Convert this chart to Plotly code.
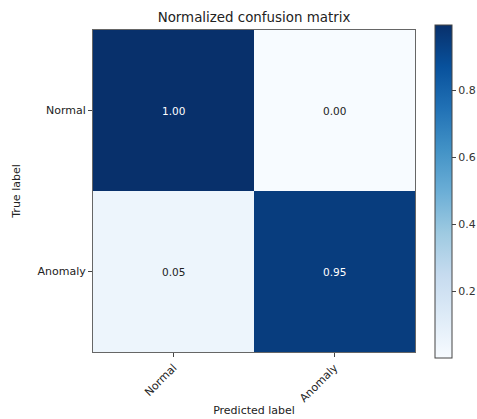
import plotly.graph_objects as go
import plotly.colors as pc

classes = ["Normal", "Anomaly"]
# rows: true label, cols: predicted label
values = [[0.997, 0.003],
          [0.052, 0.948]]
title = "Normalized confusion matrix"

font = "DejaVu Sans, sans-serif"
thresh = (max(max(r) for r in values) + min(min(r) for r in values)) / 2

fig = go.Figure()
fig.add_trace(go.Heatmap(
    z=values, x=classes, y=classes,
    colorscale=pc.sequential.Blues,
    zmin=min(min(r) for r in values), zmax=max(max(r) for r in values),
    showscale=True,
    colorbar=dict(
        thickness=17, lenmode="pixels", len=333,
        x=(435 - 93) / 322, xanchor="left", xref="paper",
        y=0.5, yanchor="middle", yref="paper",
        outlinecolor="#444", outlinewidth=1, xpad=0, ypad=0,
        tickvals=[0.2, 0.4, 0.6, 0.8], ticktext=["0.2", "0.4", "0.6", "0.8"],
        ticks="outside", ticklen=4, tickcolor="#444",
        tickfont=dict(family=font, size=11, color="#333"),
    ),
    hoverinfo="skip",
))

for i, row in enumerate(values):
    for j, v in enumerate(row):
        fig.add_annotation(
            x=classes[j], y=classes[i], text=f"{v:.2f}", showarrow=False,
            font=dict(family=font, size=10.5, color="white" if v > thresh else "#222"),
        )

fig.update_layout(
    width=477, height=419,
    margin=dict(l=93, r=62, t=30, b=67, autoexpand=False),
    paper_bgcolor="white", plot_bgcolor="white",
    title=dict(text=title, x=254 / 477, xanchor="center", y=1 - 17 / 419, yanchor="middle",
               font=dict(family=font, size=13.4, color="#222")),
    xaxis=dict(
        title=dict(text="Predicted label", font=dict(family=font, size=11, color="#222"), standoff=2),
        tickangle=-45, ticks="outside", ticklen=4, tickcolor="#444",
        tickfont=dict(family=font, size=11, color="#222"),
        showgrid=False, zeroline=False, showline=True, linecolor="#666", mirror=True,
        automargin=False,
    ),
    yaxis=dict(
        title=dict(text="True label", font=dict(family=font, size=11, color="#222"), standoff=14),
        autorange="reversed", ticks="outside", ticklen=4, tickcolor="#444",
        tickfont=dict(family=font, size=11, color="#222"),
        showgrid=False, zeroline=False, showline=True, linecolor="#666", mirror=True,
        automargin=False,
    ),
)

fig.write_html("out.html")
